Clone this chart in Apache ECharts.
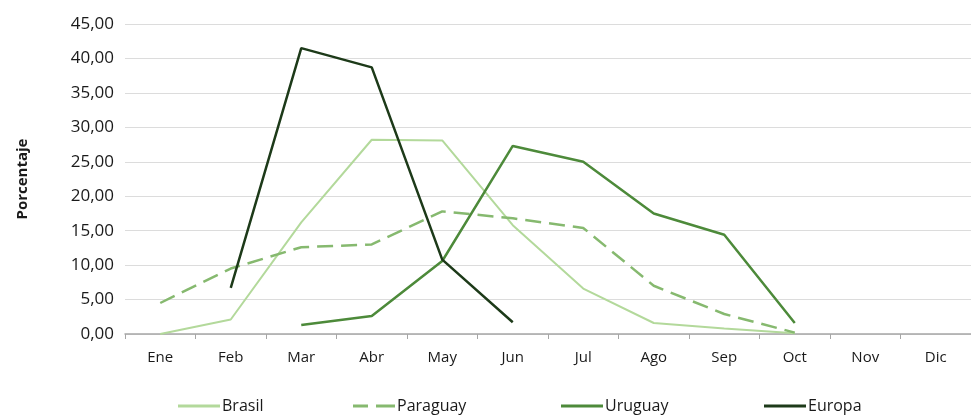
<!DOCTYPE html>
<html lang="es">
<head>
    <meta charset="UTF-8">
    <title>Porcentaje mensual</title>
    <script src="https://cdn.jsdelivr.net/npm/echarts@6/dist/echarts.min.js"></script>
</head>
<body style="margin:0;">
    <div id="main" style="width:971px;height:419px;"></div>
    <script>
        // meses y valores
        var meses = ['Ene', 'Feb', 'Mar', 'Abr', 'May', 'Jun', 'Jul', 'Ago', 'Sep', 'Oct', 'Nov', 'Dic'];
        var brasil   = [0.0, 2.1, 16.2, 28.2, 28.1, 15.8, 6.6, 1.6, 0.8, 0.1, null, null];
        var paraguay = [4.5, 9.5, 12.6, 13.0, 17.8, 16.8, 15.4, 7.0, 2.9, 0.2, null, null];
        var uruguay  = [null, null, 1.3, 2.6, 10.6, 27.3, 25.0, 17.5, 14.4, 1.6, null, null];
        var europa   = [null, 6.7, 41.5, 38.7, 10.8, 1.7, null, null, null, null, null, null];

        var fuente = '"Open Sans"';
        var myChart = echarts.init(document.getElementById('main'));

        function linea(nombre, datos, color, tipo, ancho) {
            return {
                name: nombre,
                type: 'line',
                data: datos,
                symbol: 'none',
                connectNulls: false,
                lineStyle: { color: color, width: ancho, type: tipo },
                itemStyle: { color: color }
            };
        }

        // una leyenda por serie, para colocar cada una donde esta en el original
        function leyenda(nombre, izq, icono) {
            return {
                left: izq,
                bottom: 0,
                itemWidth: 42,
                itemHeight: 3,
                icon: icono || 'rect',
                textStyle: { fontSize: 16, color: '#1a1a1a', fontFamily: fuente, padding: [0, 0, 0, -3] },
                data: [nombre]
            };
        }

        myChart.setOption({
            animation: false,
            textStyle: { fontFamily: fuente },
            grid: { left: 125, right: -8, top: 24, bottom: 85 },
            legend: [
                leyenda('Brasil', 173),
                leyenda('Paraguay', 348, 'path://M0,0H15V3H0Z M23,0H42V3H23Z'),
                leyenda('Uruguay', 556),
                leyenda('Europa', 759)
            ],
            xAxis: {
                type: 'category',
                data: meses,
                boundaryGap: true,
                axisLine: { lineStyle: { color: '#a6a6a6', width: 1.5 } },
                axisTick: { show: true, length: 5, lineStyle: { color: '#a6a6a6' } },
                axisLabel: { color: '#1a1a1a', fontSize: 15, margin: 16 }
            },
            yAxis: {
                type: 'value',
                min: 0,
                max: 45,
                interval: 5,
                name: 'Porcentaje',
                nameLocation: 'middle',
                nameGap: 95,
                nameRotate: 90,
                nameTextStyle: { fontWeight: 'bold', fontSize: 15, color: '#1a1a1a' },
                axisLine: { show: false },
                axisTick: { show: false },
                splitLine: { lineStyle: { color: '#dcdcdc', width: 1.2 } },
                axisLabel: {
                    color: '#1a1a1a',
                    fontSize: 17,
                    margin: 11,
                    formatter: function (v) { return v.toFixed(2).replace('.', ','); }
                }
            },
            series: [
                linea('Brasil', brasil, '#b3d99b', 'solid', 2),
                linea('Paraguay', paraguay, '#86b96f', [16, 8], 2.5),
                linea('Uruguay', uruguay, '#4d8a3a', 'solid', 2.5),
                linea('Europa', europa, '#1d3a19', 'solid', 2.5)
            ]
        });
    </script>
</body>
</html>
